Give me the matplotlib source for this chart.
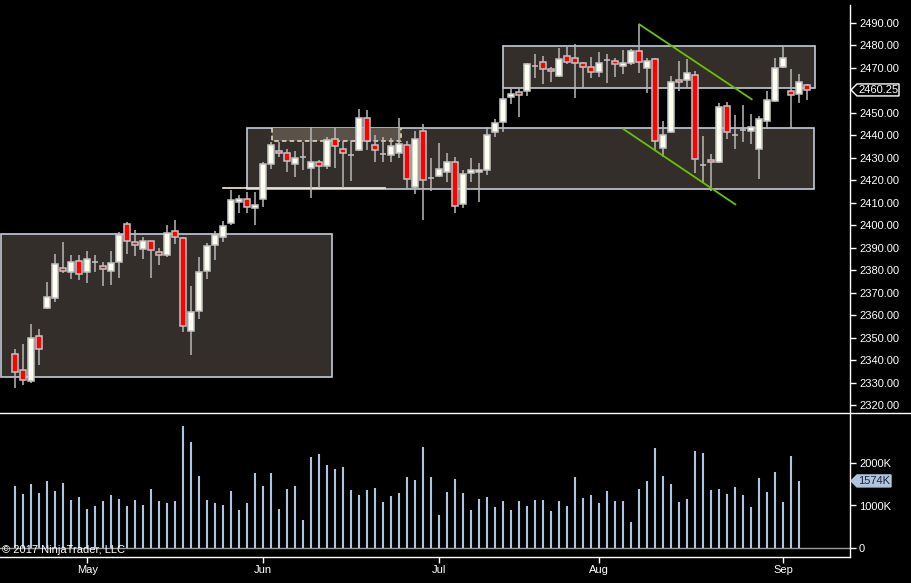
import matplotlib
matplotlib.use('Agg')
import matplotlib.pyplot as plt
from matplotlib.patches import Rectangle, Polygon
from matplotlib.lines import Line2D
import numpy as np

# ---------------- data ----------------
opens = [2342.7, 2335.6, 2331.0, 2350.8, 2363.5, 2367.9, 2381.0, 2379.2, 2384.1, 2379.2,
         2383.8, 2381.9, 2379.6, 2383.6, 2400.5, 2392.5, 2389.4, 2393.0, 2388.1, 2386.7,
         2397.4, 2394.3, 2353.0, 2361.8, 2379.6, 2391.2, 2394.7, 2400.9, 2410.6, 2411.6,
         2407.9, 2411.6, 2427.2, 2433.1, 2432.1, 2427.2, 2430.3, 2425.4, 2428.1, 2426.3,
         2438.3, 2433.9, 2431.2, 2433.4, 2447.6, 2435.6, 2431.6, 2431.2, 2432.1, 2435.6,
         2417.0, 2441.9, 2421.0, 2421.9, 2423.6, 2428.1, 2409.4, 2423.2, 2423.6, 2424.8,
         2441.4, 2446.1, 2457.0, 2459.2, 2459.6, 2471.0, 2472.5, 2469.7, 2466.6, 2475.2,
         2474.3, 2472.1, 2470.3, 2468.1, 2473.7, 2473.0, 2470.7, 2472.1, 2477.4, 2469.8,
         2473.9, 2434.3, 2441.4, 2464.5, 2464.5, 2466.7, 2426.7, 2429.0, 2428.1, 2453.0,
         2440.4, 2442.3, 2441.8, 2433.8, 2446.3, 2455.2, 2470.3, 2459.6, 2458.3, 2462.3]
highs = [2345.1, 2347.3, 2356.2, 2354.0, 2374.9, 2387.3, 2392.7, 2386.7, 2386.7, 2388.5,
         2386.7, 2383.9, 2388.5, 2397.1, 2401.4, 2398.0, 2394.7, 2393.2, 2389.9, 2400.2,
         2402.4, 2394.7, 2373.1, 2386.0, 2392.1, 2397.4, 2401.9, 2415.8, 2413.6, 2415.0,
         2414.7, 2428.2, 2437.3, 2437.3, 2433.9, 2433.1, 2437.3, 2443.6, 2429.0, 2439.2,
         2443.2, 2437.7, 2437.4, 2451.8, 2451.3, 2440.1, 2439.2, 2438.7, 2447.6, 2437.4,
         2442.1, 2445.1, 2429.9, 2436.5, 2432.1, 2430.3, 2424.7, 2429.9, 2427.6, 2443.6,
         2447.2, 2461.0, 2460.5, 2460.5, 2472.1, 2476.1, 2475.2, 2470.3, 2478.7, 2479.2,
         2480.5, 2472.5, 2474.7, 2477.0, 2476.1, 2474.3, 2477.9, 2478.3, 2489.4, 2474.3,
         2474.3, 2446.3, 2466.3, 2473.0, 2473.9, 2468.5, 2439.6, 2431.6, 2454.3, 2454.7,
         2449.0, 2453.4, 2449.4, 2448.5, 2459.6, 2474.3, 2479.6, 2469.4, 2467.2, 2462.7]
lows = [2327.9, 2329.1, 2330.1, 2338.0, 2362.9, 2366.2, 2379.0, 2376.4, 2375.9, 2374.6,
        2379.5, 2373.3, 2373.7, 2376.8, 2387.5, 2386.6, 2385.3, 2376.8, 2382.3, 2385.9,
        2391.6, 2352.5, 2342.3, 2358.6, 2376.1, 2384.5, 2392.5, 2400.2, 2405.4, 2405.4,
        2400.2, 2408.1, 2425.0, 2430.6, 2423.9, 2421.7, 2424.7, 2412.4, 2416.5, 2425.1,
        2425.7, 2416.5, 2419.8, 2433.0, 2433.7, 2428.1, 2428.1, 2428.1, 2429.9, 2416.5,
        2413.9, 2402.3, 2415.2, 2421.4, 2419.2, 2405.4, 2407.6, 2419.2, 2410.3, 2422.6,
        2439.2, 2441.7, 2453.8, 2448.1, 2457.7, 2465.4, 2462.7, 2463.6, 2466.1, 2471.6,
        2456.8, 2461.0, 2465.4, 2466.1, 2463.2, 2465.8, 2467.5, 2471.2, 2467.6, 2458.7,
        2433.0, 2430.3, 2441.0, 2459.9, 2461.0, 2423.5, 2419.2, 2415.5, 2427.6, 2438.6,
        2434.1, 2437.2, 2436.1, 2420.8, 2442.7, 2454.7, 2469.8, 2443.2, 2454.3, 2455.6]
closes = [2335.0, 2331.5, 2349.9, 2345.3, 2368.1, 2382.7, 2379.9, 2383.6, 2378.3, 2385.0,
          2383.8, 2380.8, 2383.2, 2395.8, 2393.0, 2391.2, 2393.0, 2389.0, 2386.7, 2396.5,
          2394.7, 2355.2, 2361.4, 2379.2, 2390.7, 2395.6, 2399.6, 2411.3, 2411.6, 2408.4,
          2409.0, 2427.2, 2435.6, 2432.1, 2428.5, 2429.9, 2430.3, 2428.1, 2426.3, 2437.9,
          2435.2, 2432.1, 2431.2, 2447.6, 2437.4, 2433.4, 2431.6, 2435.2, 2436.1, 2420.5,
          2438.3, 2420.1, 2421.0, 2425.0, 2428.1, 2408.5, 2422.7, 2424.5, 2424.5, 2440.1,
          2445.4, 2456.1, 2458.3, 2457.9, 2471.6, 2471.0, 2469.4, 2468.5, 2473.9, 2472.8,
          2472.1, 2470.3, 2468.1, 2472.1, 2473.7, 2471.6, 2472.1, 2477.4, 2472.5, 2473.0,
          2437.4, 2440.1, 2463.6, 2463.6, 2467.6, 2429.4, 2426.7, 2428.1, 2452.5, 2441.4,
          2440.4, 2442.3, 2443.6, 2447.2, 2455.6, 2469.8, 2474.3, 2457.9, 2463.6, 2460.25]
volume_k = [1455, 1268, 1502, 1292, 1572, 1339, 1525, 1128, 1198, 918,
            988, 1105, 1245, 1152, 988, 1128, 1012, 1385, 1105, 1058,
            1105, 2856, 2482, 1689, 1128, 1058, 1012, 1339, 895, 1058,
            1759, 1455, 1759, 918, 1385, 1455, 661, 2132, 2202, 1946,
            1852, 1899, 1362, 1245, 1362, 1409, 1082, 1222, 1292, 1665,
            1595, 2366, 1665, 778, 1315, 1619, 1292, 895, 1152, 1198,
            965, 1105, 895, 1105, 988, 1128, 1128, 872, 1105, 988,
            1665, 1175, 1245, 1058, 1339, 1105, 1105, 615, 1385, 1572,
            2342, 1689, 1502, 1082, 1152, 2272, 2226, 1362, 1385, 1268,
            1432, 1245, 965, 1642, 1315, 1782, 1082, 2156, 1574]
month_labels = ["May", "Jun", "Jul", "Aug", "Sep"]
month_bar_index = [9, 31, 53, 73, 96]
price_ticks = list(range(2320, 2491, 10))
volume_ticks = [0, 1000, 2000]
volume_tick_labels = ["0", "1000K", "2000K"]

# drawn zones: (start bar, end bar, low price, high price)
zones = [(-1.8, 39.6, 2332.5, 2396.1),
         (29.0, 99.9, 2416.1, 2443.2),
         (61.0, 99.9, 2461.0, 2479.6)]
inner_zone = (32.1, 48.25, 2437.4, 2443.2)
support_line = (25.96, 46.2, 2416.5)
trend_upper = ((78.0, 92.05), (2489.4, 2456.1))
trend_lower = ((76.0, 90.0), (2442.9, 2409.4))

# ---------------- figure ----------------
plt.rcParams['font.family'] = ['Liberation Sans', 'DejaVu Sans']
W, H = 911, 583
fig = plt.figure(figsize=(W / 100, H / 100), dpi=100, facecolor='black')


def fy(py):
    return 1 - py / H


ax = fig.add_axes([0, fy(413), 850 / W, (413 - 5) / H], facecolor='black')
axv = fig.add_axes([0, fy(557), 850 / W, (557 - 413) / H], facecolor='black')

xlim = (-15.3 / 8, (850 - 15.3) / 8)
ax.set_xlim(*xlim)
axv.set_xlim(*xlim)
ax.set_ylim(2490 - (413 - 23) / 2.25, 2490 + (23 - 5) / 2.25)
axv.set_ylim(-(557 - 548.3) / 0.0428, (548.3 - 413) / 0.0428)

# zones
box_face = '#332e2a'
box_edge = '#c3cbd6'
for x0, x1, lo, hi in zones:
    ax.add_patch(Rectangle((x0, lo), x1 - x0, hi - lo, facecolor=box_face,
                           edgecolor=box_edge, linewidth=1.2, zorder=1))
x0, x1, lo, hi = inner_zone
ax.add_patch(Rectangle((x0, lo), x1 - x0, hi - lo, facecolor='#5a5249',
                       edgecolor='none', zorder=1.2))
ax.plot([x0, x0, x1, x1], [hi, lo, lo, hi], color='#f2e3c6', lw=1.1,
        ls=(0, (3, 2)), zorder=1.3)
ax.plot([support_line[0], support_line[1]], [support_line[2]] * 2,
        color='#f4eedc', lw=1.2, zorder=1.5)

# candles
x = np.arange(len(opens))
o = np.array(opens)
c = np.array(closes)
ax.vlines(x, lows, highs, color='#b8b8b8', lw=1.1, zorder=3)
face = ['#fffff0' if cc > oo else ('#ff0000' if cc < oo else '#c0c0c0')
        for oo, cc in zip(o, c)]
ax.bar(x, np.abs(c - o), bottom=np.minimum(o, c), width=0.72, color=face,
       edgecolor='#c4c4c4', linewidth=1.1, zorder=4)

# trend lines
ax.plot(*trend_upper, color='#6cc000', lw=1.3, zorder=5)
ax.plot(*trend_lower, color='#6cc000', lw=1.3, zorder=5)

# volume
xv = np.arange(len(volume_k))
axv.axhline(0, color='#9a9a9a', lw=1, zorder=1)
axv.vlines(xv, 0, volume_k, color='#b0c4de', lw=1.5, zorder=2)

# axes styling
for a in (ax, axv):
    for s in a.spines.values():
        s.set_visible(False)
    a.spines['right'].set_visible(True)
    a.spines['right'].set_color('white')
    a.spines['right'].set_linewidth(1)
    a.yaxis.tick_right()
axv.spines['bottom'].set_visible(True)
axv.spines['bottom'].set_color('white')
axv.spines['bottom'].set_linewidth(1)

ax.set_xticks([])
ax.set_yticks(price_ticks)
ax.set_yticklabels([f"{v:.2f}" for v in price_ticks])
ax.tick_params(axis='y', colors='white', length=4, width=1, pad=2.5, labelsize=8)

axv.set_yticks(volume_ticks)
axv.set_yticklabels(volume_tick_labels)
axv.tick_params(axis='y', colors='white', length=4, width=1, pad=2.5, labelsize=8)
axv.set_xticks(month_bar_index)
axv.set_xticklabels(month_labels)
axv.tick_params(axis='x', colors='white', length=4, width=1, pad=2, labelsize=8)

# separator line across the full width
fig.add_artist(Line2D([0, 1], [fy(413), fy(413)], color='white', lw=1))

# value tags
def tag(axis, value, text, face, edge, tcolor, width):
    ypix = H - axis.transData.transform((0, value))[1]
    xl = 851
    pts = [(xl, ypix), (xl + 6, ypix - 6), (xl + width, ypix - 6),
           (xl + width, ypix + 6), (xl + 6, ypix + 6)]
    fig.add_artist(Polygon([(px / W, fy(py)) for px, py in pts], closed=True,
                           facecolor=face, edgecolor=edge, lw=1,
                           transform=fig.transFigure))
    fig.text((xl + 7) / W, fy(ypix), text, color=tcolor, fontsize=8,
             ha='left', va='center')


tag(ax, closes[-1], f"{closes[-1]:.2f}", 'black', 'white', 'white', 48)
tag(axv, volume_k[-1], f"{volume_k[-1]}K", '#b0c4de', '#b0c4de', '#1c2340', 40)

fig.text(2 / W, fy(550), '\u00a9 2017 NinjaTrader, LLC', color='white',
         fontsize=8, ha='left', va='center')

fig.savefig('out.png', dpi=100, facecolor='black')
